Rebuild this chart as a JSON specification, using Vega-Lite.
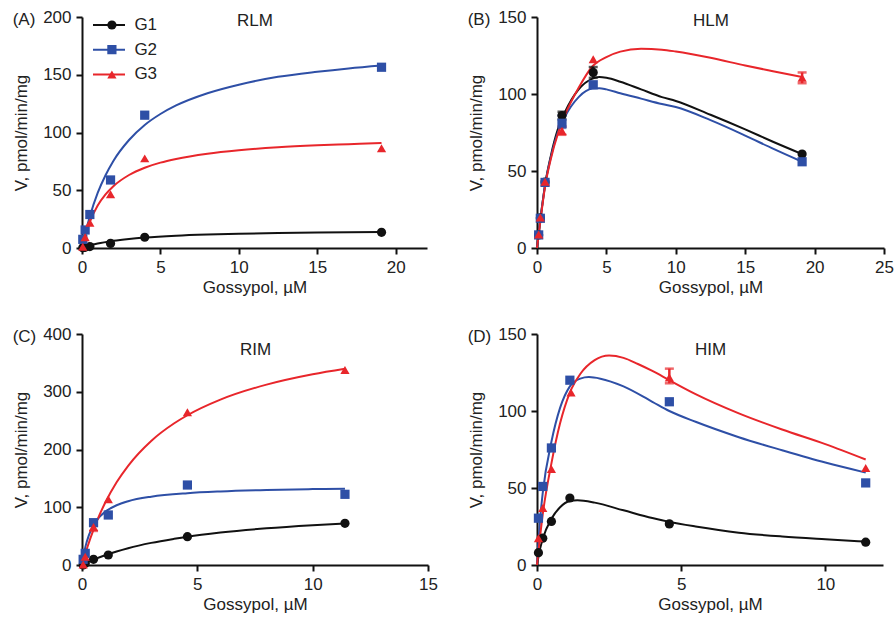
{
  "$schema": "https://vega.github.io/schema/vega-lite/v6.json",
  "padding": {"left": 12, "top": 8, "right": 0, "bottom": 5},
  "background": "white",
  "config": {
    "font": "Liberation Sans",
    "view": {"stroke": null},
    "axis": {"domainColor": "#111111", "domainWidth": 2, "tickColor": "#111111", "tickWidth": 2, "tickSize": 6, "labelFont": "Liberation Sans", "labelFontSize": 17, "labelColor": "#222222", "titleFont": "Liberation Sans", "titleFontSize": 17, "titleFontWeight": "normal", "titleColor": "#222222", "grid": false, "labelFlush": false},
    "axisX": {"labelPadding": 5, "titlePadding": 4},
    "axisY": {"labelPadding": 5, "titlePadding": 12},
    "title": {"font": "Liberation Sans", "fontSize": 17, "fontWeight": "normal", "color": "#222222"},
    "legend": {"labelFont": "Liberation Sans", "labelFontSize": 17, "labelColor": "#222222"}
  },
  "datasets": {
    "pts": [
      {"p":"A","g":"G1","x":0.05,"y":0.3},{"p":"A","g":"G1","x":0.2,"y":0.6},{"p":"A","g":"G1","x":0.5,"y":1.2},{"p":"A","g":"G1","x":1.82,"y":4.0},{"p":"A","g":"G1","x":4.0,"y":9.3},{"p":"A","g":"G1","x":19.1,"y":13.6},
      {"p":"A","g":"G2","x":0.05,"y":7.5},{"p":"A","g":"G2","x":0.2,"y":15.6},{"p":"A","g":"G2","x":0.5,"y":29},{"p":"A","g":"G2","x":1.82,"y":58.9},{"p":"A","g":"G2","x":4.0,"y":115},{"p":"A","g":"G2","x":19.1,"y":156.5},
      {"p":"A","g":"G3","x":0.05,"y":1.1},{"p":"A","g":"G3","x":0.2,"y":9.3},{"p":"A","g":"G3","x":0.5,"y":21.9},{"p":"A","g":"G3","x":1.82,"y":46.5},{"p":"A","g":"G3","x":4.0,"y":77.6},{"p":"A","g":"G3","x":19.1,"y":86.3},
      {"p":"B","g":"G1","x":0.12,"y":8.5},{"p":"B","g":"G1","x":0.24,"y":19.5},{"p":"B","g":"G1","x":0.58,"y":42.8},{"p":"B","g":"G1","x":1.8,"y":86},{"p":"B","g":"G1","x":4.05,"y":114},{"p":"B","g":"G1","x":19.1,"y":61},
      {"p":"B","g":"G2","x":0.12,"y":8.5},{"p":"B","g":"G2","x":0.24,"y":19.3},{"p":"B","g":"G2","x":0.58,"y":42.6},{"p":"B","g":"G2","x":1.8,"y":81},{"p":"B","g":"G2","x":4.05,"y":106},{"p":"B","g":"G2","x":19.1,"y":56},
      {"p":"B","g":"G3","x":0.12,"y":8.8},{"p":"B","g":"G3","x":0.24,"y":19.8},{"p":"B","g":"G3","x":0.58,"y":43},{"p":"B","g":"G3","x":1.8,"y":76},{"p":"B","g":"G3","x":4.05,"y":122.5},{"p":"B","g":"G3","x":19.1,"y":110.5},
      {"p":"C","g":"G1","x":0.05,"y":0},{"p":"C","g":"G1","x":0.14,"y":2.9},{"p":"C","g":"G1","x":0.5,"y":9.8},{"p":"C","g":"G1","x":1.14,"y":17.3},{"p":"C","g":"G1","x":4.57,"y":49.1},{"p":"C","g":"G1","x":11.4,"y":72.2},
      {"p":"C","g":"G2","x":0.05,"y":9.8},{"p":"C","g":"G2","x":0.14,"y":20.2},{"p":"C","g":"G2","x":0.5,"y":73.3},{"p":"C","g":"G2","x":1.14,"y":86.6},{"p":"C","g":"G2","x":4.57,"y":138.5},{"p":"C","g":"G2","x":11.4,"y":122.4},
      {"p":"C","g":"G3","x":0.05,"y":1},{"p":"C","g":"G3","x":0.14,"y":14.4},{"p":"C","g":"G3","x":0.5,"y":66},{"p":"C","g":"G3","x":1.14,"y":113.7},{"p":"C","g":"G3","x":4.57,"y":264.4},{"p":"C","g":"G3","x":11.4,"y":337.7},
      {"p":"D","g":"G1","x":0.05,"y":8},{"p":"D","g":"G1","x":0.2,"y":17.4},{"p":"D","g":"G1","x":0.5,"y":28.3},{"p":"D","g":"G1","x":1.14,"y":43.5},{"p":"D","g":"G1","x":4.59,"y":26.7},{"p":"D","g":"G1","x":11.4,"y":14.8},
      {"p":"D","g":"G2","x":0.05,"y":30.4},{"p":"D","g":"G2","x":0.2,"y":51},{"p":"D","g":"G2","x":0.5,"y":76},{"p":"D","g":"G2","x":1.14,"y":120},{"p":"D","g":"G2","x":4.59,"y":106},{"p":"D","g":"G2","x":11.4,"y":53.3},
      {"p":"D","g":"G3","x":0.05,"y":17.4},{"p":"D","g":"G3","x":0.2,"y":37},{"p":"D","g":"G3","x":0.5,"y":62.4},{"p":"D","g":"G3","x":1.18,"y":112},{"p":"D","g":"G3","x":4.59,"y":121.7},{"p":"D","g":"G3","x":11.4,"y":63}
    ],
    "curves": [
      {"p":"A","g":"G1","x":0,"y":0},{"p":"A","g":"G1","x":0.5,"y":2.2},{"p":"A","g":"G1","x":1,"y":3.9},{"p":"A","g":"G1","x":2,"y":6.2},{"p":"A","g":"G1","x":3,"y":7.8},{"p":"A","g":"G1","x":4,"y":9.0},{"p":"A","g":"G1","x":6,"y":10.6},{"p":"A","g":"G1","x":8,"y":11.6},{"p":"A","g":"G1","x":10,"y":12.3},{"p":"A","g":"G1","x":12.5,"y":12.9},{"p":"A","g":"G1","x":15,"y":13.4},{"p":"A","g":"G1","x":19.1,"y":13.9},
      {"p":"A","g":"G2","x":0,"y":0},{"p":"A","g":"G2","x":0.2,"y":12},{"p":"A","g":"G2","x":0.5,"y":27.4},{"p":"A","g":"G2","x":1,"y":47.7},{"p":"A","g":"G2","x":1.5,"y":63},{"p":"A","g":"G2","x":2,"y":75.4},{"p":"A","g":"G2","x":3,"y":93.5},{"p":"A","g":"G2","x":4,"y":106.5},{"p":"A","g":"G2","x":5,"y":116},{"p":"A","g":"G2","x":6,"y":123.4},{"p":"A","g":"G2","x":8,"y":134},{"p":"A","g":"G2","x":10,"y":141.4},{"p":"A","g":"G2","x":12.5,"y":148.2},{"p":"A","g":"G2","x":15,"y":152.6},{"p":"A","g":"G2","x":17,"y":155.5},{"p":"A","g":"G2","x":19.1,"y":158},
      {"p":"A","g":"G3","x":0,"y":0},{"p":"A","g":"G3","x":0.2,"y":10.3},{"p":"A","g":"G3","x":0.5,"y":22.5},{"p":"A","g":"G3","x":1,"y":36.7},{"p":"A","g":"G3","x":1.5,"y":46.4},{"p":"A","g":"G3","x":2,"y":53.5},{"p":"A","g":"G3","x":3,"y":63.2},{"p":"A","g":"G3","x":4,"y":69.5},{"p":"A","g":"G3","x":5,"y":73.9},{"p":"A","g":"G3","x":6,"y":77.1},{"p":"A","g":"G3","x":8,"y":81.6},{"p":"A","g":"G3","x":10,"y":84.6},{"p":"A","g":"G3","x":12.5,"y":87.2},{"p":"A","g":"G3","x":15,"y":88.9},{"p":"A","g":"G3","x":17,"y":89.9},{"p":"A","g":"G3","x":19.1,"y":90.9},
      {"p":"B","g":"G1","x":0,"y":0},{"p":"B","g":"G1","x":0.25,"y":19},{"p":"B","g":"G1","x":0.6,"y":42},{"p":"B","g":"G1","x":1,"y":60},{"p":"B","g":"G1","x":1.5,"y":77},{"p":"B","g":"G1","x":2,"y":88},{"p":"B","g":"G1","x":3,"y":103},{"p":"B","g":"G1","x":4,"y":110},{"p":"B","g":"G1","x":4.5,"y":111},{"p":"B","g":"G1","x":5,"y":110.5},{"p":"B","g":"G1","x":6,"y":108},{"p":"B","g":"G1","x":7.5,"y":103},{"p":"B","g":"G1","x":9,"y":98},{"p":"B","g":"G1","x":10,"y":95.5},{"p":"B","g":"G1","x":12.5,"y":86.5},{"p":"B","g":"G1","x":15,"y":77},{"p":"B","g":"G1","x":17,"y":69},{"p":"B","g":"G1","x":19.1,"y":61},
      {"p":"B","g":"G2","x":0,"y":0},{"p":"B","g":"G2","x":0.25,"y":19},{"p":"B","g":"G2","x":0.6,"y":42},{"p":"B","g":"G2","x":1,"y":59},{"p":"B","g":"G2","x":1.5,"y":75},{"p":"B","g":"G2","x":2,"y":85},{"p":"B","g":"G2","x":3,"y":98},{"p":"B","g":"G2","x":4,"y":103.5},{"p":"B","g":"G2","x":4.5,"y":103.8},{"p":"B","g":"G2","x":5,"y":103},{"p":"B","g":"G2","x":6,"y":100.5},{"p":"B","g":"G2","x":7.5,"y":97},{"p":"B","g":"G2","x":9,"y":93.5},{"p":"B","g":"G2","x":10,"y":91.5},{"p":"B","g":"G2","x":12.5,"y":83},{"p":"B","g":"G2","x":15,"y":73},{"p":"B","g":"G2","x":17,"y":64.5},{"p":"B","g":"G2","x":19.1,"y":56},
      {"p":"B","g":"G3","x":0,"y":0},{"p":"B","g":"G3","x":0.25,"y":18},{"p":"B","g":"G3","x":0.6,"y":41},{"p":"B","g":"G3","x":1,"y":58},{"p":"B","g":"G3","x":1.5,"y":74},{"p":"B","g":"G3","x":2,"y":86},{"p":"B","g":"G3","x":3,"y":104},{"p":"B","g":"G3","x":4,"y":118},{"p":"B","g":"G3","x":5,"y":124},{"p":"B","g":"G3","x":6,"y":127.5},{"p":"B","g":"G3","x":7.5,"y":129.4},{"p":"B","g":"G3","x":9,"y":128.8},{"p":"B","g":"G3","x":10,"y":127.6},{"p":"B","g":"G3","x":12.5,"y":123.5},{"p":"B","g":"G3","x":15,"y":118.5},{"p":"B","g":"G3","x":17,"y":114.8},{"p":"B","g":"G3","x":19.1,"y":111},
      {"p":"C","g":"G1","x":0,"y":0},{"p":"C","g":"G1","x":0.25,"y":4.8},{"p":"C","g":"G1","x":0.5,"y":9.2},{"p":"C","g":"G1","x":1,"y":16.9},{"p":"C","g":"G1","x":1.5,"y":23.4},{"p":"C","g":"G1","x":2,"y":29.1},{"p":"C","g":"G1","x":3,"y":38.3},{"p":"C","g":"G1","x":4,"y":45.4},{"p":"C","g":"G1","x":4.57,"y":49},{"p":"C","g":"G1","x":6,"y":56.1},{"p":"C","g":"G1","x":8,"y":63.5},{"p":"C","g":"G1","x":10,"y":68.9},{"p":"C","g":"G1","x":11.4,"y":72},
      {"p":"C","g":"G2","x":0,"y":0},{"p":"C","g":"G2","x":0.15,"y":31.8},{"p":"C","g":"G2","x":0.3,"y":51.8},{"p":"C","g":"G2","x":0.5,"y":69},{"p":"C","g":"G2","x":0.75,"y":82.8},{"p":"C","g":"G2","x":1,"y":92},{"p":"C","g":"G2","x":1.5,"y":103.5},{"p":"C","g":"G2","x":2,"y":110.4},{"p":"C","g":"G2","x":3,"y":118.3},{"p":"C","g":"G2","x":4.57,"y":124.4},{"p":"C","g":"G2","x":6,"y":127.4},{"p":"C","g":"G2","x":8,"y":129.9},{"p":"C","g":"G2","x":10,"y":131.4},{"p":"C","g":"G2","x":11.4,"y":132.2},
      {"p":"C","g":"G3","x":0,"y":0},{"p":"C","g":"G3","x":0.25,"y":33},{"p":"C","g":"G3","x":0.5,"y":61.4},{"p":"C","g":"G3","x":0.75,"y":85.9},{"p":"C","g":"G3","x":1,"y":107.4},{"p":"C","g":"G3","x":1.5,"y":143.2},{"p":"C","g":"G3","x":2,"y":171.8},{"p":"C","g":"G3","x":3,"y":214.8},{"p":"C","g":"G3","x":4,"y":245.4},{"p":"C","g":"G3","x":4.57,"y":259.3},{"p":"C","g":"G3","x":6,"y":286.3},{"p":"C","g":"G3","x":8,"y":312.4},{"p":"C","g":"G3","x":10,"y":330.4},{"p":"C","g":"G3","x":11.4,"y":340},
      {"p":"D","g":"G1","x":0,"y":0},{"p":"D","g":"G1","x":0.1,"y":10},{"p":"D","g":"G1","x":0.2,"y":17},{"p":"D","g":"G1","x":0.5,"y":30},{"p":"D","g":"G1","x":0.8,"y":37.5},{"p":"D","g":"G1","x":1.14,"y":41.5},{"p":"D","g":"G1","x":1.4,"y":42},{"p":"D","g":"G1","x":2,"y":40.5},{"p":"D","g":"G1","x":3,"y":35.5},{"p":"D","g":"G1","x":4,"y":30.5},{"p":"D","g":"G1","x":4.59,"y":28},{"p":"D","g":"G1","x":5.5,"y":25},{"p":"D","g":"G1","x":7,"y":21},{"p":"D","g":"G1","x":8.5,"y":18.5},{"p":"D","g":"G1","x":10,"y":16.7},{"p":"D","g":"G1","x":11.4,"y":15.2},
      {"p":"D","g":"G2","x":0,"y":0},{"p":"D","g":"G2","x":0.1,"y":28},{"p":"D","g":"G2","x":0.2,"y":47},{"p":"D","g":"G2","x":0.5,"y":80},{"p":"D","g":"G2","x":0.8,"y":102},{"p":"D","g":"G2","x":1.14,"y":116},{"p":"D","g":"G2","x":1.5,"y":121},{"p":"D","g":"G2","x":1.8,"y":122},{"p":"D","g":"G2","x":2.2,"y":121},{"p":"D","g":"G2","x":3,"y":116},{"p":"D","g":"G2","x":4,"y":106},{"p":"D","g":"G2","x":4.59,"y":100},{"p":"D","g":"G2","x":5.5,"y":93},{"p":"D","g":"G2","x":7,"y":83},{"p":"D","g":"G2","x":8.5,"y":74.5},{"p":"D","g":"G2","x":10,"y":66.5},{"p":"D","g":"G2","x":11.4,"y":60},
      {"p":"D","g":"G3","x":0,"y":0},{"p":"D","g":"G3","x":0.2,"y":33},{"p":"D","g":"G3","x":0.5,"y":66},{"p":"D","g":"G3","x":0.8,"y":92},{"p":"D","g":"G3","x":1.14,"y":112},{"p":"D","g":"G3","x":1.5,"y":124},{"p":"D","g":"G3","x":2,"y":133},{"p":"D","g":"G3","x":2.5,"y":136},{"p":"D","g":"G3","x":3,"y":134.5},{"p":"D","g":"G3","x":3.5,"y":130.5},{"p":"D","g":"G3","x":4,"y":126},{"p":"D","g":"G3","x":4.59,"y":120},{"p":"D","g":"G3","x":5.5,"y":111},{"p":"D","g":"G3","x":7,"y":98.5},{"p":"D","g":"G3","x":8.5,"y":88},{"p":"D","g":"G3","x":10,"y":78.5},{"p":"D","g":"G3","x":11.4,"y":68.5}
    ],
    "err": [
      {"p":"B","g":"G1","x":1.8,"lo":83.5,"hi":88.5},{"p":"B","g":"G2","x":1.8,"lo":78,"hi":86},{"p":"B","g":"G3","x":1.8,"lo":73.5,"hi":79},
      {"p":"B","g":"G1","x":4.05,"lo":110.5,"hi":117.5},{"p":"B","g":"G3","x":19.1,"lo":107,"hi":114},
      {"p":"C","g":"G3","x":0.5,"lo":59,"hi":74},
      {"p":"D","g":"G3","x":4.59,"lo":118,"hi":127.5}
    ]
  },
  "columns": 2,
  "spacing": {"row": 86, "column": 109},
  "bounds": "flush",
  "concat": [
    {
      "title": {"text": "(A)", "anchor": "start", "frame": "bounds", "offset": -21},
      "width": 345, "height": 231,
      "resolve": {"axis": {"x": "independent"}},
      "layer": [
        {"data": {"name": "curves"}, "transform": [{"filter": "datum.p === 'A'"}],
         "mark": {"type": "line", "interpolate": "monotone", "strokeWidth": 2, "clip": false},
         "encoding": {
           "x": {"field": "x", "type": "quantitative", "title": "Gossypol, µM", "scale": {"domain": [0, 22], "nice": false}, "axis": {"values": [0, 5, 10, 15, 20]}},
           "y": {"field": "y", "type": "quantitative", "title": "V, pmol/min/mg", "scale": {"domain": [0, 200], "nice": false}, "axis": {"values": [0, 50, 100, 150, 200]}},
           "stroke": {"field": "g", "type": "nominal", "scale": {"range": ["#111111", "#2E4FA6", "#E8262B"]},
             "legend": {"orient": "none", "legendX": 10, "legendY": 0, "title": null, "symbolType": "stroke", "symbolSize": 1024, "symbolStrokeWidth": 2, "labelExpr": "''", "clipHeight": 16, "rowPadding": 7.7, "padding": 0}}
         }},
        {"data": {"name": "pts"}, "transform": [{"filter": "datum.p === 'A'"}],
         "mark": {"type": "point", "filled": true, "size": 85, "opacity": 1, "strokeWidth": 0, "clip": false},
         "encoding": {
           "x": {"field": "x", "type": "quantitative", "title": "RLM", "axis": {"orient": "top", "domain": false, "ticks": false, "labels": false, "titlePadding": -12, "minExtent": 0, "maxExtent": 0}},
           "y": {"field": "y", "type": "quantitative", "title": "V, pmol/min/mg"},
           "fill": {"field": "g", "type": "nominal", "scale": {"range": ["#111111", "#2E4FA6", "#E8262B"]},
             "legend": {"orient": "none", "legendX": 21.4, "legendY": 0, "title": null, "symbolSize": 85, "symbolStrokeWidth": 0, "labelOffset": 14, "clipHeight": 16, "rowPadding": 7.7, "padding": 0}},
           "shape": {"field": "g", "type": "nominal", "scale": {"range": ["circle", "square", "triangle-up"]},
             "legend": {"orient": "none", "legendX": 21.4, "legendY": 0, "title": null, "symbolSize": 85, "symbolStrokeWidth": 0, "labelOffset": 14, "clipHeight": 16, "rowPadding": 7.7, "padding": 0}}
         }}
      ]
    },
    {
      "title": {"text": "(B)", "anchor": "start", "frame": "bounds", "offset": -21},
      "width": 347, "height": 231,
      "resolve": {"axis": {"x": "independent"}},
      "layer": [
        {"data": {"name": "curves"}, "transform": [{"filter": "datum.p === 'B'"}],
         "mark": {"type": "line", "interpolate": "monotone", "strokeWidth": 2, "clip": false},
         "encoding": {
           "x": {"field": "x", "type": "quantitative", "title": "Gossypol, µM", "scale": {"domain": [0, 25], "nice": false}, "axis": {"values": [0, 5, 10, 15, 20, 25]}},
           "y": {"field": "y", "type": "quantitative", "title": "V, pmol/min/mg", "scale": {"domain": [0, 150], "nice": false}, "axis": {"values": [0, 50, 100, 150]}},
           "stroke": {"field": "g", "type": "nominal"}
         }},
        {"data": {"name": "err"}, "transform": [{"filter": "datum.p === 'B'"}],
         "mark": {"type": "errorbar", "ticks": {"size": 9, "thickness": 2.5}, "thickness": 2.5},
         "encoding": {
           "x": {"field": "x", "type": "quantitative", "axis": null},
           "y": {"field": "lo", "type": "quantitative", "title": "V, pmol/min/mg"},
           "y2": {"field": "hi"},
           "color": {"field": "g", "type": "nominal", "scale": {"domain": ["G1", "G2", "G3"], "range": ["#111111", "#2E4FA6", "#E8262B"]}, "legend": null}
         }},
        {"data": {"name": "pts"}, "transform": [{"filter": "datum.p === 'B'"}],
         "mark": {"type": "point", "filled": true, "size": 85, "opacity": 1, "strokeWidth": 0, "clip": false},
         "encoding": {
           "x": {"field": "x", "type": "quantitative", "title": "HLM", "axis": {"orient": "top", "domain": false, "ticks": false, "labels": false, "titlePadding": -12, "minExtent": 0, "maxExtent": 0}},
           "y": {"field": "y", "type": "quantitative", "title": "V, pmol/min/mg"},
           "fill": {"field": "g", "type": "nominal"},
           "shape": {"field": "g", "type": "nominal"}
         }}
      ]
    },
    {
      "title": {"text": "(C)", "anchor": "start", "frame": "bounds", "offset": -21},
      "width": 346, "height": 231,
      "resolve": {"axis": {"x": "independent"}},
      "layer": [
        {"data": {"name": "curves"}, "transform": [{"filter": "datum.p === 'C'"}],
         "mark": {"type": "line", "interpolate": "monotone", "strokeWidth": 2, "clip": false},
         "encoding": {
           "x": {"field": "x", "type": "quantitative", "title": "Gossypol, µM", "scale": {"domain": [0, 15], "nice": false}, "axis": {"values": [0, 5, 10, 15]}},
           "y": {"field": "y", "type": "quantitative", "title": "V, pmol/min/mg", "scale": {"domain": [0, 400], "nice": false}, "axis": {"values": [0, 100, 200, 300, 400]}},
           "stroke": {"field": "g", "type": "nominal"}
         }},
        {"data": {"name": "err"}, "transform": [{"filter": "datum.p === 'C'"}],
         "mark": {"type": "errorbar", "ticks": {"size": 9, "thickness": 2.5}, "thickness": 2.5},
         "encoding": {
           "x": {"field": "x", "type": "quantitative", "axis": null},
           "y": {"field": "lo", "type": "quantitative", "title": "V, pmol/min/mg"},
           "y2": {"field": "hi"},
           "color": {"field": "g", "type": "nominal", "scale": {"domain": ["G1", "G2", "G3"], "range": ["#111111", "#2E4FA6", "#E8262B"]}, "legend": null}
         }},
        {"data": {"name": "pts"}, "transform": [{"filter": "datum.p === 'C'"}],
         "mark": {"type": "point", "filled": true, "size": 85, "opacity": 1, "strokeWidth": 0, "clip": false},
         "encoding": {
           "x": {"field": "x", "type": "quantitative", "title": "RIM", "axis": {"orient": "top", "domain": false, "ticks": false, "labels": false, "titlePadding": -24, "minExtent": 0, "maxExtent": 0}},
           "y": {"field": "y", "type": "quantitative", "title": "V, pmol/min/mg"},
           "fill": {"field": "g", "type": "nominal"},
           "shape": {"field": "g", "type": "nominal"}
         }}
      ]
    },
    {
      "title": {"text": "(D)", "anchor": "start", "frame": "bounds", "offset": -21},
      "width": 346, "height": 231,
      "resolve": {"axis": {"x": "independent"}},
      "layer": [
        {"data": {"name": "curves"}, "transform": [{"filter": "datum.p === 'D'"}],
         "mark": {"type": "line", "interpolate": "monotone", "strokeWidth": 2, "clip": false},
         "encoding": {
           "x": {"field": "x", "type": "quantitative", "title": "Gossypol, µM", "scale": {"domain": [0, 12], "nice": false}, "axis": {"values": [0, 5, 10]}},
           "y": {"field": "y", "type": "quantitative", "title": "V, pmol/min/mg", "scale": {"domain": [0, 150], "nice": false}, "axis": {"values": [0, 50, 100, 150]}},
           "stroke": {"field": "g", "type": "nominal"}
         }},
        {"data": {"name": "err"}, "transform": [{"filter": "datum.p === 'D'"}],
         "mark": {"type": "errorbar", "ticks": {"size": 9, "thickness": 2.5}, "thickness": 2.5},
         "encoding": {
           "x": {"field": "x", "type": "quantitative", "axis": null},
           "y": {"field": "lo", "type": "quantitative", "title": "V, pmol/min/mg"},
           "y2": {"field": "hi"},
           "color": {"field": "g", "type": "nominal", "scale": {"domain": ["G1", "G2", "G3"], "range": ["#111111", "#2E4FA6", "#E8262B"]}, "legend": null}
         }},
        {"data": {"name": "pts"}, "transform": [{"filter": "datum.p === 'D'"}],
         "mark": {"type": "point", "filled": true, "size": 85, "opacity": 1, "strokeWidth": 0, "clip": false},
         "encoding": {
           "x": {"field": "x", "type": "quantitative", "title": "HIM", "axis": {"orient": "top", "domain": false, "ticks": false, "labels": false, "titlePadding": -24, "minExtent": 0, "maxExtent": 0}},
           "y": {"field": "y", "type": "quantitative", "title": "V, pmol/min/mg"},
           "fill": {"field": "g", "type": "nominal"},
           "shape": {"field": "g", "type": "nominal"}
         }}
      ]
    }
  ]
}
